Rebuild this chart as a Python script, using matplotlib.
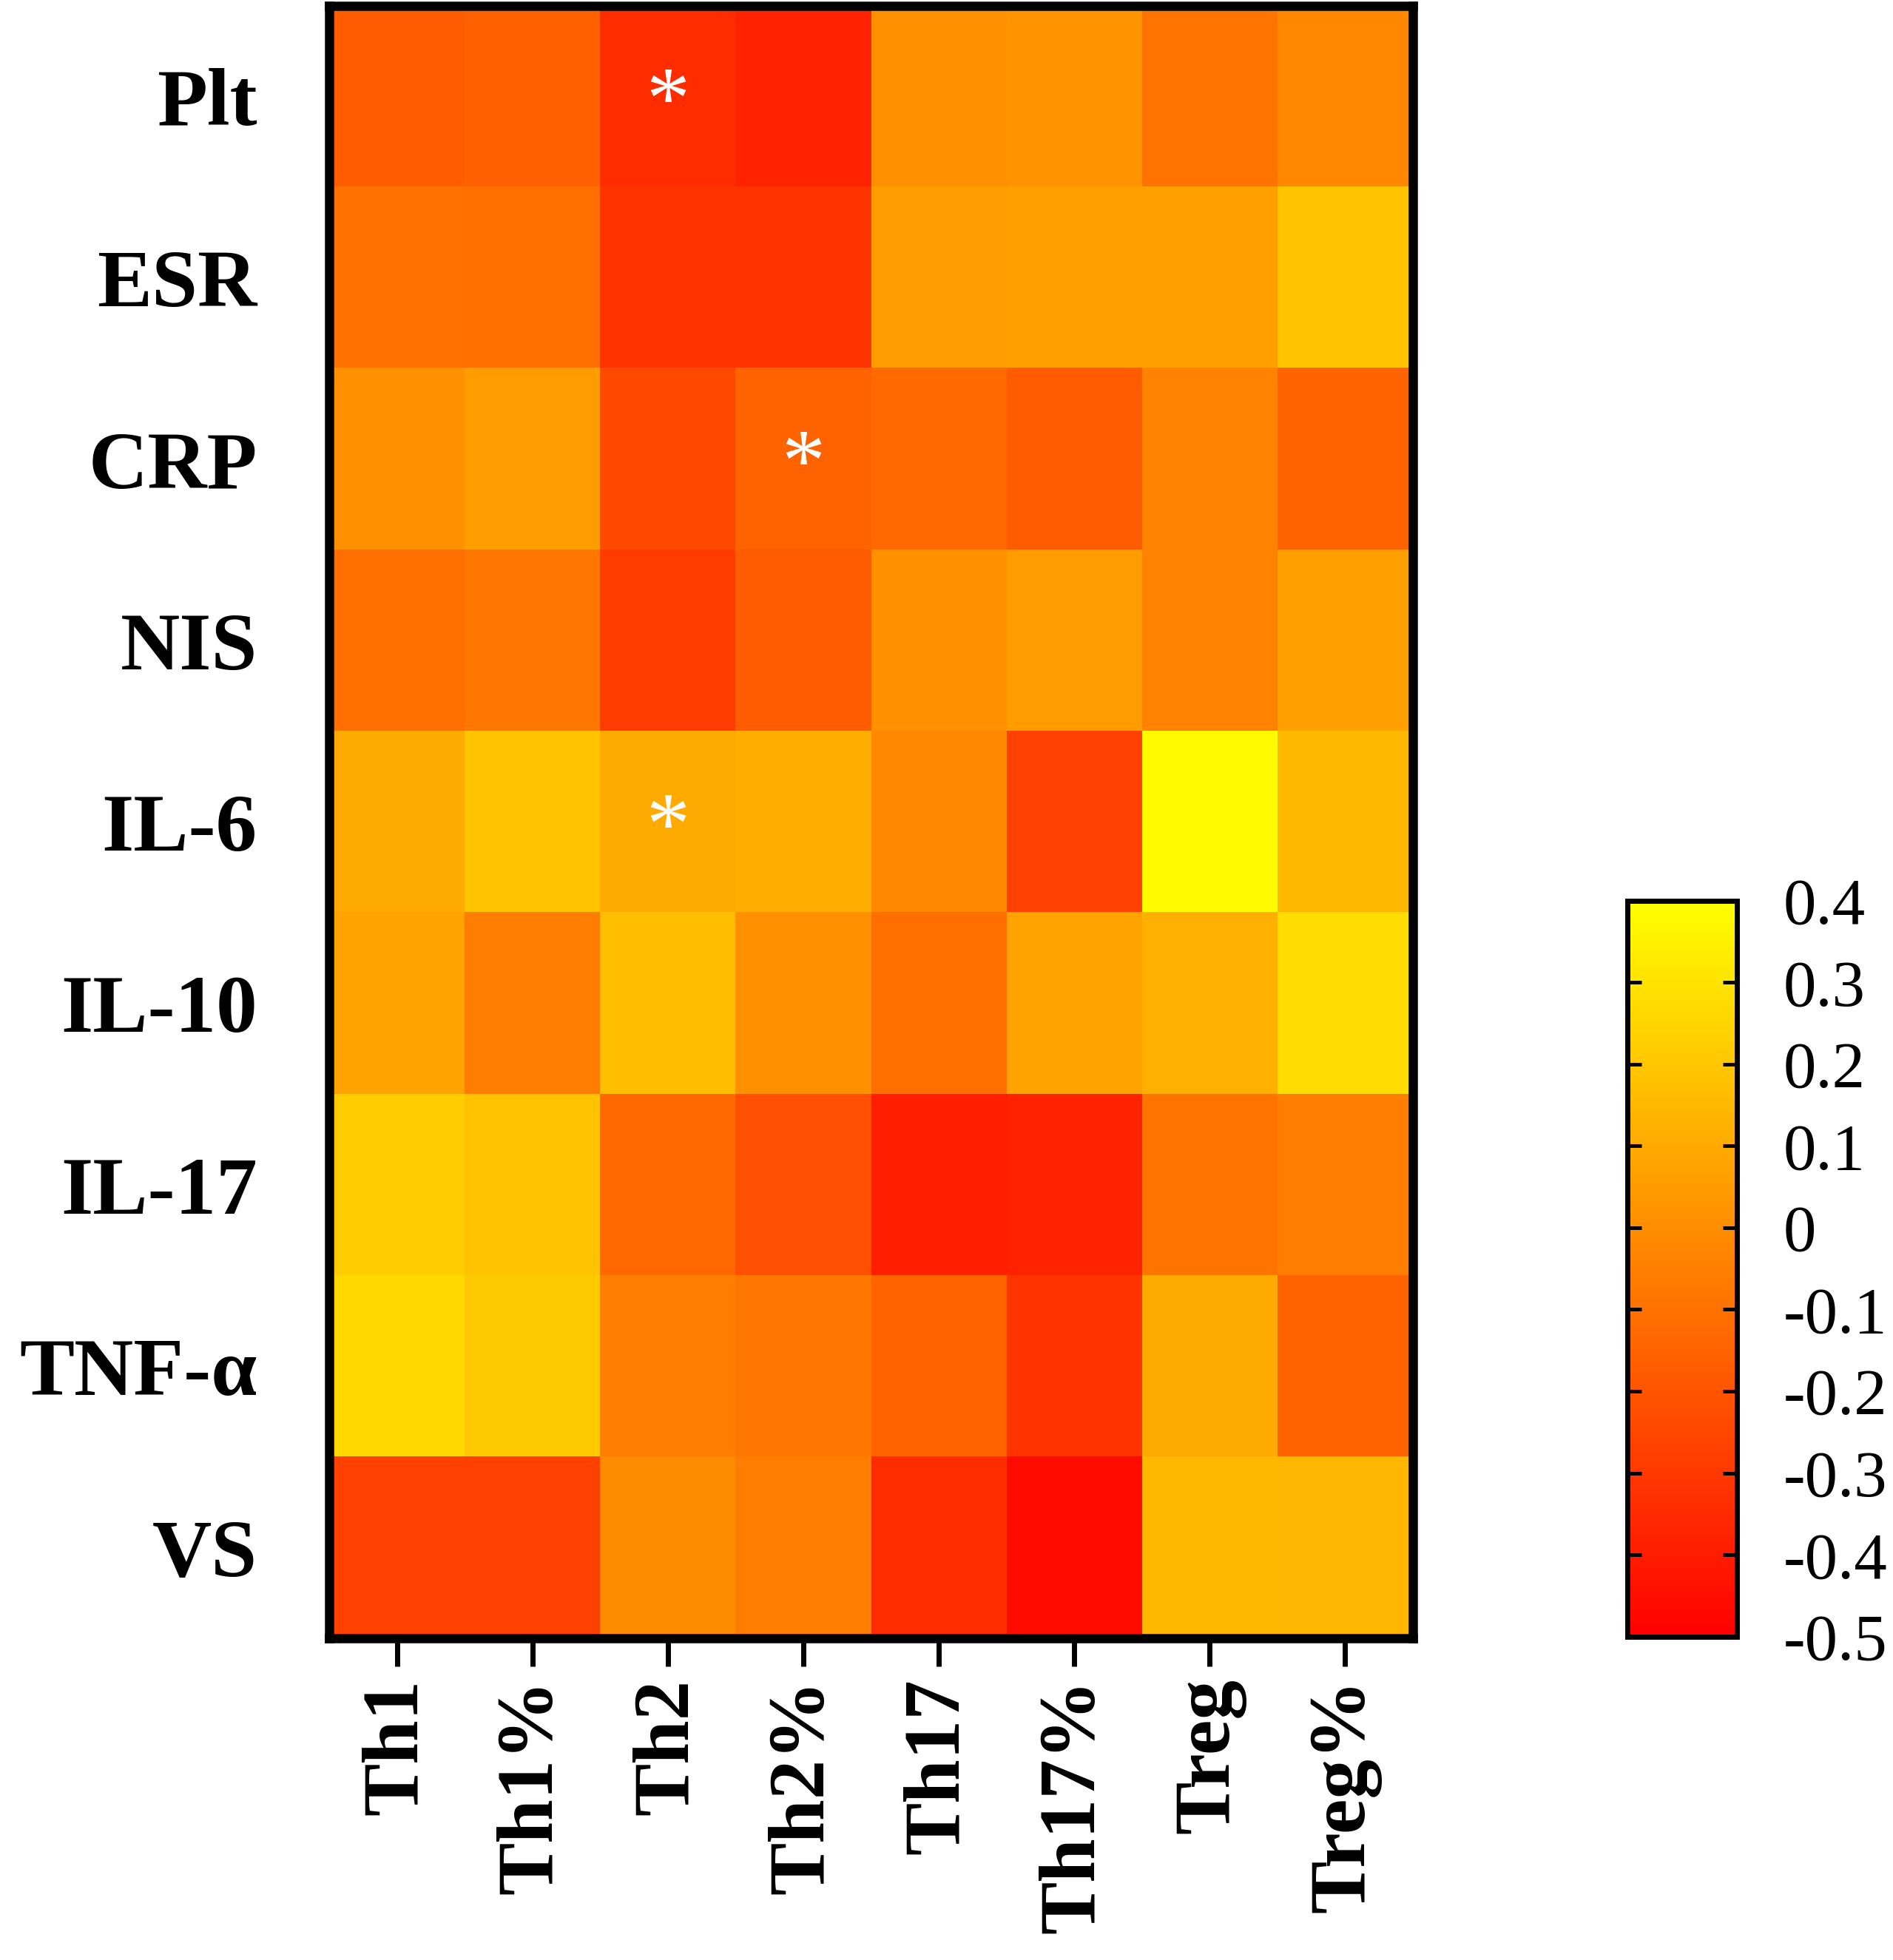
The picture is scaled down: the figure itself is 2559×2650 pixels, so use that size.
import matplotlib
matplotlib.use("Agg")
import matplotlib.pyplot as plt
import numpy as np

rows = ["Plt", "ESR", "CRP", "NIS", "IL-6", "IL-10", "IL-17", "TNF-α", "VS"]
cols = ["Th1", "Th1%", "Th2", "Th2%", "Th17", "Th17%", "Treg", "Treg%"]

# correlation coefficients (row = clinical index)
r_plt = [-0.18, -0.16, -0.34, -0.38, 0.01, 0.02, -0.09, -0.02]
r_esr = [-0.10, -0.11, -0.32, -0.32, 0.05, 0.06, 0.06, 0.19]
r_crp = [0.01, 0.05, -0.24, -0.15, -0.13, -0.18, -0.04, -0.15]
r_nis = [-0.11, -0.08, -0.29, -0.18, 0.01, 0.05, -0.04, 0.06]
r_il6 = [0.10, 0.19, 0.10, 0.11, -0.02, -0.27, 0.38, 0.15]
r_il10 = [0.08, -0.06, 0.17, 0.01, -0.11, 0.08, 0.12, 0.28]
r_il17 = [0.22, 0.19, -0.13, -0.22, -0.39, -0.38, -0.09, -0.06]
r_tnf = [0.26, 0.21, -0.06, -0.08, -0.15, -0.32, 0.10, -0.15]
r_vs = [-0.27, -0.27, -0.01, -0.06, -0.34, -0.46, 0.15, 0.14]

# significant cells (row, col)
sig = [("Plt", "Th2"), ("CRP", "Th2%"), ("IL-6", "Th2")]

cbar_ticks = [0.4, 0.3, 0.2, 0.1, 0, -0.1, -0.2, -0.3, -0.4, -0.5]


def main():
    plt.rcParams["font.family"] = ["Liberation Serif", "DejaVu Serif"]
    data = np.array([r_plt, r_esr, r_crp, r_nis, r_il6, r_il10, r_il17, r_tnf, r_vs])

    fig = plt.figure(figsize=(25.59, 26.5), dpi=100)
    ax = fig.add_axes([0.1739, 0.164, 0.5725, 0.833])
    im = ax.imshow(data, cmap="autumn", vmin=-0.5, vmax=0.4, aspect="auto",
                   interpolation="nearest")

    for r, c in sig:
        ax.text(cols.index(c), rows.index(r) + 0.05, "*", color="white",
                fontsize=85, ha="center", va="center")

    ax.set_xticks(range(len(cols)))
    ax.set_xticklabels(cols, rotation=90, fontsize=77, fontweight="bold",
                       va="top", ha="center")
    ax.set_yticks(range(len(rows)))
    ax.set_yticklabels(rows, fontsize=80, fontweight="bold")
    ax.tick_params(axis="x", length=27, width=5, pad=12)
    ax.tick_params(axis="y", length=0, pad=70)
    for s in ax.spines.values():
        s.set_linewidth(9)

    cax = fig.add_axes([0.8597, 0.165, 0.0578, 0.3755])
    cb = fig.colorbar(im, cax=cax, ticks=cbar_ticks)
    cb.ax.set_yticklabels([f"{t:g}" for t in cbar_ticks], fontsize=64)
    cb.outline.set_linewidth(5)
    cb.ax.tick_params(direction="in", left=True, right=True, length=14,
                      width=3.5, pad=45)
    return fig, ax


if __name__ == "__main__":
    fig, ax = main()
    fig.savefig("out.png", dpi=100)
